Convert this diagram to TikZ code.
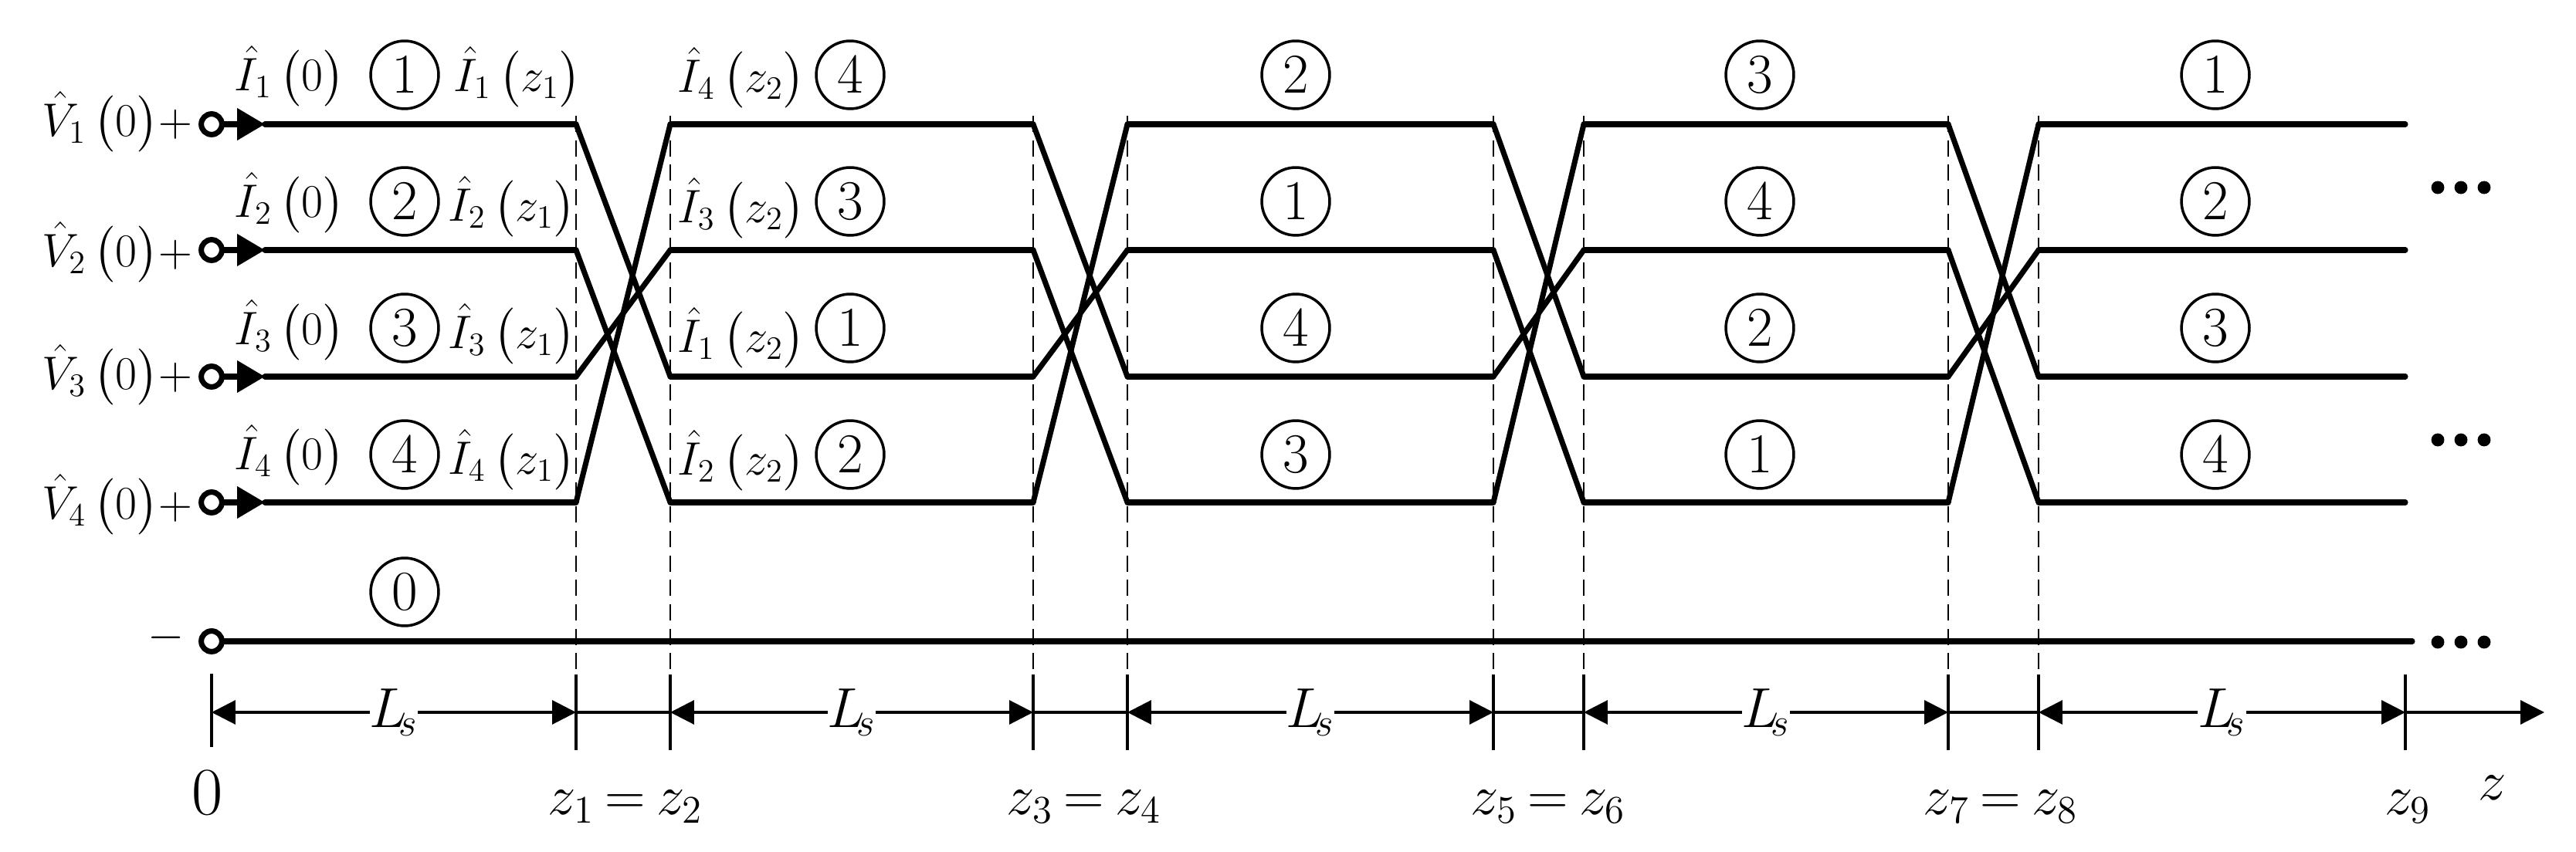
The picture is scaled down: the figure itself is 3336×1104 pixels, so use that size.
\documentclass[tikz,border=0pt]{standalone}
\usepackage{amsmath}
\usetikzlibrary{arrows.meta}
\usetikzlibrary{calc}

\tikzset{
    wire/.style={line width=2pt, line cap=round},
    guide/.style={line width=0.8pt, dashed, dash pattern=on 6pt off 3pt},
    tick/.style={line width=0.9pt},
    dimline/.style={line width=0.9pt, {Triangle[length=8.8pt,width=8.8pt]}-{Triangle[length=8.8pt,width=8.8pt]}},
    port/.style={circle, draw, fill=white, line width=2pt, minimum size=7.6pt, inner sep=0pt},
    mode/.style={circle, draw, line width=1pt, minimum size=25pt, inner sep=0pt, font=\fontsize{20}{22}\selectfont},
    lab/.style={inner sep=0pt, font=\fontsize{18.5}{22}\selectfont},
    axislab/.style={inner sep=0pt, anchor=base, font=\fontsize{22}{26}\selectfont},
    lenlab/.style={fill=white, inner sep=0pt, font=\fontsize{21}{24}\selectfont},
    dotmark/.style={circle, fill, minimum size=4.8pt, inner sep=0pt},
}

\begin{document}
\begin{tikzpicture}[x=0.01cm, y=-0.01cm]
\useasboundingbox (0,0) rectangle (3336,1104);
\foreach \zx/\zn in {274/0,746/1,868/2,1338/3,1460/4,1934/5,2051/6,2523/7,2640/8,3115/9}
    \foreach \ry/\rn in {161/1,324/2,488/3,651/4}
        \coordinate (p\zn-\rn) at (\zx,\ry);
\foreach \zx/\zn in {746/1,868/2,1338/3,1460/4,1934/5,2051/6,2523/7,2640/8}
    \draw[guide] (\zx,150) -- (\zx,868);
\foreach \r in {1,...,4} {
    \node[port] (port\r) at (p0-\r) {};
    \coordinate (tip\r) at ($(p0-\r)+(69,0)$);
    \draw[wire,-{Triangle[length=10.2pt,width=11.4pt]}] (port\r) -- (tip\r);
    \draw[wire] (tip\r) -- (p1-\r);
}
\foreach \a/\b in {2/3,4/5,6/7,8/9}
    \foreach \r in {1,...,4}
        \draw[wire] (p\a-\r) -- (p\b-\r);
\foreach \a/\b in {1/2,3/4,5/6,7/8}
    \foreach \r/\t in {1/3,2/4,3/2,4/1}
        \draw[wire] (p\a-\r) -- (p\b-\t);
\node[port] (port5) at (274,831) {};
\coordinate (railend) at (3124,831);
\draw[wire] (port5) -- (railend);
\node[lab] (minus) at (215,826) {$-$};
\foreach \r/\vy/\iy/\jx/\jy in {1/158/99/670/100,2/327/263/663/268,3/486/428/663/433,4/654/590/663/596} {
    \node[lab, anchor=east] (volt\r) at (250,\vy) {$\hat{V}_\r\,\bigl(0\bigr)+$};
    \node[lab] (cur\r) at (375,\iy) {$\hat{I}_\r\,\bigl(0\bigr)$};
    \node[lab] (curz\r) at (\jx,\jy) {$\hat{I}_\r\,\bigl(z_1\bigr)$};
}
\foreach \r/\ly in {4/101,3/270,1/438,2/597}
    \node[lab] (next\r) at (960,\ly) {$\hat{I}_\r\,\bigl(z_2\bigr)$};
\foreach \cx/\sg/\list in {524/a/{1,2,3,4},1101/b/{4,3,1,2},1678/c/{2,1,4,3},2279/d/{3,4,2,1},2869/e/{1,2,3,4}}
    \foreach \m [count=\i] in \list {
        \pgfmathsetmacro{\cy}{97+164*(\i-1)}
        \node[mode] (mode\sg\i) at (\cx,\cy) {$\m$};
    }
\node[mode] (mode0) at (524,767) {$0$};
\foreach \cy/\n in {243/a,570/b,832/c}
    \foreach \cx in {3157,3187,3217}
        \node[dotmark] (dots\n\cx) at (\cx,\cy) {};
\foreach \zx/\zn in {746/1,868/2,1338/3,1460/4,1934/5,2051/6,2523/7,2640/8,3115/9} {
    \coordinate (d\zn) at (\zx,923);
    \draw[tick] (\zx,874) -- (\zx,972);
}
\coordinate (d0) at (274,923);
\draw[tick] (d0) ++(0,-50) -- ++(0,95);
\coordinate (dend) at (3295,923);
\foreach \a/\b in {0/1,2/3,4/5,6/7,8/9}
    \draw[dimline] (d\a) -- node[lenlab] (len\a) {$L_{\mkern-4mu s}$} (d\b);
\foreach \a/\b in {1/2,3/4,5/6,7/8}
    \draw[tick] (d\a) -- (d\b);
\draw[tick,-{Triangle[length=8.8pt,width=8.8pt]}] (d9) -- (dend);
\node[axislab, font=\fontsize{23}{26}\selectfont] (zero) at (269,1056) {$0$};
\node[axislab] (z12) at (810,1056) {$z_1\mkern-1.5mu=\mkern-1.5mu z_2$};
\node[axislab] (z34) at (1404,1056) {$z_3\mkern-1.5mu=\mkern-1.5mu z_4$};
\node[axislab] (z56) at (2005,1056) {$z_5\mkern-1.5mu=\mkern-1.5mu z_6$};
\node[axislab] (z78) at (2591,1056) {$z_7\mkern-1.5mu=\mkern-1.5mu z_8$};
\node[axislab] (z9) at (3118,1056) {$z_9$};
\node[axislab] (zaxis) at (3228,1037) {$z$};
\end{tikzpicture}
\end{document}
